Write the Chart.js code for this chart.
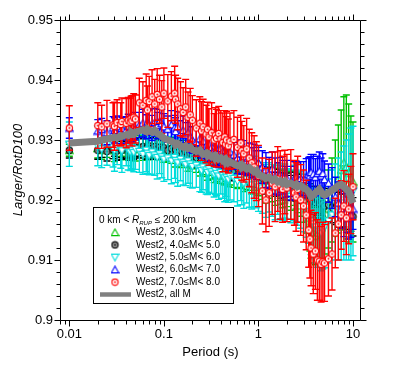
<!DOCTYPE html>
<html><head><meta charset="utf-8">
<script src="https://cdn.jsdelivr.net/npm/chart.js@4.4.0/dist/chart.umd.min.js"></script>
<style>html,body{margin:0;padding:0;background:#fff;}#wrap{width:401px;height:365px;}</style>
</head><body><div id="wrap"><canvas id="c" width="401" height="365"></canvas></div>
<script>
const periods = [0.01,0.02,0.022,0.025,0.029,0.03,0.032,0.035,0.036,0.04,
 0.042,0.044,0.045,0.046,0.048,0.05,0.055,0.06,0.065,0.067,
 0.07,0.075,0.08,0.085,0.09,0.095,0.1,0.11,0.12,0.13,
 0.133,0.14,0.15,0.16,0.17,0.18,0.19,0.2,0.22,0.24,
 0.25,0.26,0.28,0.29,0.3,0.32,0.34,0.35,0.36,0.38,
 0.4,0.42,0.44,0.45,0.46,0.48,0.5,0.55,0.6,0.65,
 0.667,0.7,0.75,0.8,0.85,0.9,0.95,1,1.1,1.2,
 1.3,1.4,1.5,1.6,1.7,1.8,1.9,2,2.2,2.4,
 2.5,2.6,2.8,3,3.2,3.4,3.5,3.6,3.8,4,
 4.2,4.4,4.6,4.8,5,5.5,6,6.5,7,7.5,
 8,8.5,9,9.5,10];

const seriesLabels = ['West2, 3.0\u2264M< 4.0','West2, 4.0\u2264M< 5.0','West2, 5.0\u2264M< 6.0','West2, 6.0\u2264M< 7.0','West2, 7.0\u2264M< 8.0','West2, all M'];

const m34 = [.9283,
 .9286,.9283,.9288,.9285,.9282,.9287,.9284,.9289,.9286,.9283,.9288,.9285,.9290,.9287,.9284,
 .9289,.9286,.9291,.9288,.9285,.9290,.9287,.9284,.9289,.9286,.9282,
 .9284,.9280,.9276,.9281,.9277,.9273,.9278,.9274,.9270,.9275,.9271,
 .9267,.9263,.9268,.9264,.9260,.9256,.9261,.9257,.9253,.9258,.9254,.9250,.9255,.9251,.9247,.9252,.9248,.9244,.9249,
 .9245,.9241,.9246,.9242,.9238,.9243,.9239,.9235,.9240,.9236,.9232,
 .9228,.9224,.9229,.9225,.9221,.9226,.9222,.9218,.9223,.9219,.9215,.9220,.9216,.9212,.9208,
 .9200,.9185,.9170,.9160,.9150,.9145,.9140,.9145,.9150,.9155,.9160,.9170,.9185,.9200,
 .9220,.9235,.9250,.9262,.9255,.9245,.9235,.9230];
const m34Err = [.0010,
 .0016,.0015,.0017,.0016,.0018,.0015,.0017,.0016,.0018,.0017,.0015,.0018,.0016,.0017,.0019,
 .0018,.0020,.0017,.0019,.0018,.0020,.0019,.0017,.0020,.0018,.0019,
 .0020,.0019,.0021,.0020,.0022,.0019,.0021,.0020,.0022,.0021,.0019,
 .0021,.0023,.0020,.0022,.0021,.0023,.0020,.0022,.0024,.0021,.0023,.0022,.0020,.0024,.0022,.0021,.0023,.0022,.0024,
 .0024,.0022,.0025,.0023,.0024,.0026,.0023,.0025,.0024,.0026,.0025,
 .0027,.0029,.0026,.0028,.0030,.0027,.0029,.0031,.0028,.0030,.0032,.0029,.0031,.0033,.0035,
 .0037,.0040,.0042,.0045,.0047,.0050,.0048,.0052,.0050,.0054,.0056,.0060,.0065,.0070,
 .0080,.0090,.0100,.0110,.0120,.0115,.0105,.0100];

const m45 = [.9283,
 .9283,.9285,.9281,.9284,.9286,.9282,.9285,.9283,.9287,.9284,.9282,.9286,.9283,.9285,.9288,
 .9286,.9289,.9285,.9288,.9290,.9286,.9289,.9285,.9288,.9284,.9287,
 .9283,.9286,.9281,.9284,.9279,.9282,.9277,.9280,.9275,.9278,.9273,
 .9271,.9274,.9269,.9272,.9267,.9270,.9265,.9268,.9263,.9266,.9261,.9264,.9259,.9262,.9257,.9260,.9255,.9258,.9253,
 .9250,.9253,.9248,.9251,.9246,.9249,.9244,.9247,.9242,.9245,.9240,
 .9236,.9232,.9235,.9230,.9226,.9229,.9224,.9227,.9222,.9225,.9220,.9223,.9218,.9221,.9216,
 .9212,.9208,.9205,.9202,.9200,.9198,.9196,.9200,.9195,.9198,.9194,.9190,.9192,.9188,
 .9186,.9184,.9182,.9185,.9180,.9176,.9178,.9172];
const m45Err = [.0013,
 .0015,.0014,.0016,.0015,.0013,.0016,.0014,.0015,.0017,.0014,.0016,.0015,.0014,.0017,.0015,
 .0016,.0015,.0017,.0016,.0014,.0018,.0015,.0017,.0016,.0015,.0017,
 .0016,.0018,.0015,.0017,.0016,.0018,.0017,.0015,.0018,.0016,.0017,
 .0017,.0019,.0016,.0018,.0017,.0019,.0016,.0018,.0017,.0019,.0016,.0018,.0017,.0019,.0018,.0016,.0019,.0017,.0018,
 .0018,.0020,.0017,.0019,.0018,.0020,.0019,.0017,.0020,.0018,.0019,
 .0020,.0022,.0019,.0021,.0020,.0022,.0021,.0019,.0022,.0020,.0021,.0023,.0020,.0022,.0021,
 .0023,.0024,.0022,.0025,.0023,.0024,.0026,.0023,.0025,.0024,.0026,.0025,.0027,.0026,
 .0027,.0029,.0028,.0030,.0029,.0031,.0030,.0032];

const m56 = [.9293,
 .9290,.9285,.9292,.9287,.9283,.9290,.9286,.9282,.9289,.9284,.9280,.9287,.9283,.9279,.9285,
 .9281,.9276,.9283,.9278,.9274,.9280,.9275,.9271,.9277,.9272,.9268,
 .9270,.9265,.9271,.9266,.9262,.9268,.9263,.9259,.9265,.9260,.9256,
 .9258,.9253,.9249,.9255,.9250,.9246,.9252,.9247,.9243,.9249,.9244,.9240,.9246,.9241,.9237,.9243,.9238,.9234,.9240,
 .9236,.9231,.9237,.9232,.9228,.9234,.9229,.9225,.9231,.9226,.9222,
 .9220,.9215,.9221,.9216,.9212,.9218,.9213,.9209,.9215,.9210,.9206,.9212,.9207,.9203,.9200,
 .9195,.9188,.9180,.9172,.9165,.9160,.9155,.9150,.9148,.9145,.9150,.9155,.9165,.9175,
 .9180,.9185,.9190,.9195,.9200,.9205,.9210,.9215];
const m56Err = [.0037,
 .0033,.0031,.0034,.0032,.0035,.0031,.0033,.0036,.0032,.0034,.0031,.0035,.0033,.0032,.0034,
 .0035,.0033,.0036,.0034,.0032,.0037,.0034,.0036,.0033,.0035,.0037,
 .0036,.0038,.0035,.0037,.0039,.0036,.0038,.0035,.0037,.0039,.0036,
 .0037,.0039,.0036,.0038,.0040,.0037,.0039,.0036,.0038,.0040,.0037,.0039,.0036,.0038,.0040,.0037,.0039,.0038,.0040,
 .0039,.0041,.0038,.0040,.0042,.0039,.0041,.0040,.0042,.0039,.0041,
 .0042,.0044,.0041,.0043,.0045,.0042,.0044,.0043,.0045,.0042,.0044,.0046,.0043,.0045,.0047,
 .0048,.0050,.0052,.0054,.0056,.0058,.0060,.0062,.0060,.0063,.0065,.0068,.0070,.0075,
 .0080,.0085,.0090,.0095,.0100,.0105,.0110,.0108];

const m67 = [.9320,
 .9315,.9318,.9312,.9320,.9316,.9322,.9314,.9319,.9317,.9323,.9315,.9320,.9318,.9324,.9319,
 .9325,.9328,.9322,.9330,.9326,.9320,.9329,.9324,.9331,.9327,.9322,
 .9318,.9325,.9320,.9314,.9322,.9310,.9316,.9308,.9312,.9305,.9300,
 .9296,.9302,.9292,.9298,.9290,.9286,.9293,.9288,.9282,.9290,.9284,.9279,.9286,.9281,.9276,.9283,.9278,.9274,.9280,
 .9275,.9270,.9277,.9268,.9272,.9265,.9269,.9262,.9266,.9258,.9262,
 .9255,.9250,.9245,.9252,.9240,.9235,.9242,.9238,.9230,.9236,.9228,.9235,.9238,.9232,.9236,
 .9234,.9238,.9242,.9240,.9246,.9243,.9238,.9244,.9248,.9240,.9244,.9234,.9228,.9220,
 .9205,.9195,.9185,.9175,.9180,.9170,.9175,.9185];
const m67Err = [.0017,
 .0019,.0018,.0020,.0019,.0021,.0018,.0020,.0019,.0022,.0020,.0019,.0021,.0020,.0022,.0019,
 .0021,.0023,.0020,.0022,.0024,.0021,.0023,.0022,.0020,.0024,.0022,
 .0022,.0024,.0021,.0023,.0025,.0022,.0024,.0021,.0023,.0025,.0022,
 .0023,.0025,.0022,.0024,.0021,.0023,.0025,.0022,.0024,.0023,.0021,.0025,.0022,.0024,.0023,.0025,.0022,.0024,.0023,
 .0024,.0026,.0023,.0025,.0027,.0024,.0026,.0025,.0027,.0024,.0026,
 .0027,.0029,.0026,.0028,.0030,.0027,.0029,.0028,.0026,.0030,.0028,.0029,.0027,.0030,.0028,
 .0030,.0031,.0029,.0032,.0030,.0033,.0031,.0029,.0032,.0030,.0033,.0031,.0032,.0034,
 .0033,.0035,.0032,.0036,.0034,.0035,.0037,.0034];

const m78 = [.9320,
 .9324,.9322,.9327,.9325,.9323,.9329,.9326,.9331,.9328,.9333,.9330,.9336,.9332,.9338,.9335,
 .9362,.9358,.9366,.9350,.9364,.9372,.9360,.9376,.9368,.9355,.9378,
 .9365,.9373,.9378,.9368,.9360,.9352,.9346,.9355,.9338,.9342,.9333,
 .9320,.9328,.9315,.9322,.9310,.9318,.9305,.9312,.9300,.9308,.9303,.9311,.9302,.9296,.9305,.9293,.9300,.9290,.9298,
 .9301,.9288,.9295,.9282,.9277,.9285,.9270,.9262,.9255,.9248,.9240,
 .9215,.9200,.9212,.9228,.9222,.9235,.9225,.9218,.9230,.9220,.9226,.9212,.9205,.9218,.9200,
 .9190,.9175,.9150,.9135,.9120,.9110,.9115,.9100,.9098,.9093,.9097,.9095,.9102,.9110,
 .9145,.9160,.9175,.9190,.9170,.9185,.9200,.9222];
const m78Err = [.0037,
 .0038,.0036,.0039,.0037,.0040,.0038,.0036,.0039,.0041,.0038,.0040,.0037,.0042,.0039,.0040,
 .0041,.0039,.0044,.0040,.0042,.0045,.0041,.0043,.0040,.0044,.0042,
 .0044,.0041,.0045,.0040,.0043,.0045,.0041,.0046,.0042,.0044,.0041,
 .0047,.0044,.0049,.0046,.0048,.0045,.0047,.0050,.0044,.0046,.0048,.0045,.0047,.0049,.0044,.0046,.0048,.0045,.0047,
 .0048,.0050,.0046,.0049,.0047,.0051,.0048,.0050,.0052,.0049,.0051,
 .0055,.0053,.0056,.0052,.0058,.0054,.0057,.0055,.0053,.0056,.0058,.0054,.0057,.0055,.0059,
 .0060,.0058,.0062,.0065,.0063,.0066,.0064,.0067,.0065,.0063,.0066,.0064,.0062,.0060,
 .0058,.0060,.0057,.0059,.0061,.0058,.0056,.0055];

const allM = [.9295,
 .9298,.9300,.9302,.9304,.9305,.9303,.9307,.9306,.9309,.9308,.9311,.9309,.9312,.9310,.9313,
 .9315,.9317,.9314,.9318,.9316,.9313,.9316,.9311,.9309,.9306,.9303,
 .9300,.9298,.9295,.9292,.9294,.9290,.9288,.9290,.9286,.9288,.9284,
 .9281,.9283,.9279,.9276,.9278,.9274,.9276,.9272,.9274,.9270,.9272,.9268,.9270,.9266,.9268,.9264,.9266,.9262,.9264,
 .9260,.9257,.9259,.9254,.9256,.9252,.9254,.9250,.9247,.9249,.9242,
 .9240,.9236,.9238,.9233,.9235,.9230,.9232,.9228,.9231,.9226,.9228,.9224,.9226,.9222,.9224,
 .9220,.9218,.9214,.9210,.9206,.9208,.9212,.9215,.9218,.9214,.9210,.9208,.9212,.9216,
 .9220,.9224,.9226,.9222,.9218,.9214,.9205,.9195];

const xTicks = [0.008,0.009,0.01,0.02,0.03,0.04,0.05,0.06,0.07,0.08,0.09,0.1,0.2,0.3,0.4,0.5,0.6,0.7,0.8,0.9,1,2,3,4,5,6,7,8,9,10];
const yTicks = [0.9,0.902,0.904,0.906,0.908,0.91,0.912,0.914,0.916,0.918,0.92,0.922,0.924,0.926,0.928,0.93,0.932,0.934,0.936,0.938,0.94,0.942,0.944,0.946,0.948,0.95];

const FONT = '"Liberation Sans", Arial, Helvetica, sans-serif';
Chart.defaults.font.family = FONT;
Chart.defaults.color = '#000';

const GREEN = '#00c000', BLACK = '#000000', CYAN = '#00dcdc', BLUE = '#0000ff', RED = '#ff0000', GRAY = '#808080';

function marker(shape, stroke, fill, dot) {
  const c = document.createElement('canvas');
  c.width = 9; c.height = 9;
  const g = c.getContext('2d');
  g.lineWidth = 1.1; g.strokeStyle = stroke; g.fillStyle = fill;
  g.beginPath();
  if (shape === 'up') { g.moveTo(4.5, 1.0); g.lineTo(8.2, 7.6); g.lineTo(0.8, 7.6); g.closePath(); }
  else if (shape === 'down') { g.moveTo(4.5, 8.0); g.lineTo(8.2, 1.4); g.lineTo(0.8, 1.4); g.closePath(); }
  else { g.arc(4.5, 4.5, 3.1, 0, Math.PI * 2); }
  g.fill(); g.stroke();
  if (dot) { g.beginPath(); g.fillStyle = dot; g.arc(4.5, 4.5, 1.0, 0, Math.PI * 2); g.fill(); }
  return c;
}

const pts = vals => periods.map((p, i) => ({x: p, y: vals[i]}));
const isDecade = v => Math.abs(Math.log10(v) - Math.round(Math.log10(v))) < 1e-9;
const isMajorY = v => Math.abs(v * 100 - Math.round(v * 100)) < 1e-6;

const errorBarPlugin = {
  id: 'errbars',
  beforeDatasetDraw(chart, args) {
    const ds = chart.data.datasets[args.index];
    if (!ds.errors) return;
    const xs = chart.scales.x, ys = chart.scales.y, ctx = chart.ctx;
    ctx.save();
    ctx.strokeStyle = ds.errColor;
    ctx.lineWidth = 1.4;
    ctx.beginPath();
    ds.data.forEach((d, i) => {
      const e = ds.errors[i];
      const px = xs.getPixelForValue(d.x);
      const y1 = ys.getPixelForValue(d.y + e), y2 = ys.getPixelForValue(d.y - e);
      ctx.moveTo(px, y1); ctx.lineTo(px, y2);
      ctx.moveTo(px - 3.5, y1); ctx.lineTo(px + 3.5, y1);
      ctx.moveTo(px - 3.5, y2); ctx.lineTo(px + 3.5, y2);
    });
    ctx.stroke();
    ctx.restore();
  }
};

const framePlugin = {
  id: 'frame',
  afterDraw(chart) {
    const {ctx, chartArea: a, scales: {x, y}} = chart;
    ctx.save();
    ctx.strokeStyle = '#000'; ctx.lineWidth = 1;
    ctx.beginPath();
    const L = Math.round(a.left) + 0.5, R = Math.round(a.right) - 0.5, T = Math.round(a.top) + 0.5, B = Math.round(a.bottom) + 0.5;
    ctx.moveTo(L, T); ctx.lineTo(R, T); ctx.lineTo(R, B); ctx.lineTo(L, B); ctx.closePath();
    x.ticks.forEach(t => {
      const px = Math.round(x.getPixelForValue(t.value)) + 0.5;
      const len = isDecade(t.value) ? 6 : 4;
      ctx.moveTo(px, B); ctx.lineTo(px, B + len);
      ctx.moveTo(px, T); ctx.lineTo(px, T - len);
    });
    y.ticks.forEach(t => {
      const py = Math.round(y.getPixelForValue(t.value)) + 0.5;
      const len = isMajorY(t.value) ? 6 : 4;
      ctx.moveTo(L, py); ctx.lineTo(L - len, py);
      ctx.moveTo(R, py); ctx.lineTo(R + len, py);
    });
    ctx.stroke();
    ctx.restore();
  }
};

const legendPlugin = {
  id: 'boxLegend',
  afterDraw(chart) {
    const ctx = chart.ctx;
    const L = 93, T = 207, W = 140, H = 96;
    ctx.save();
    ctx.fillStyle = '#fff'; ctx.fillRect(L, T, W, H);
    ctx.strokeStyle = '#000'; ctx.lineWidth = 1; ctx.strokeRect(L + 0.5, T + 0.5, W, H);
    ctx.fillStyle = '#000'; ctx.textBaseline = 'middle'; ctx.textAlign = 'left';
    let x = L + 6; const y = T + 13;
    const f = '10px ' + FONT, fi = 'italic 10px ' + FONT, fs = 'italic 6px ' + FONT;
    ctx.font = f; ctx.fillText('0 km < ', x, y); x += ctx.measureText('0 km < ').width;
    ctx.font = fi; ctx.fillText('R', x, y); x += ctx.measureText('R').width;
    ctx.font = fs; ctx.fillText('RUP', x, y + 3); x += ctx.measureText('RUP').width;
    ctx.font = f; ctx.fillText(' \u2264 200 km', x, y);
    const rows = chart.data.datasets.slice().reverse();
    rows.forEach((ds, i) => {
      const ry = T + 25.5 + i * 12.4;
      if (ds.pointStyle && typeof ds.pointStyle === 'object') {
        const img = ds.pointStyle;
        ctx.drawImage(img, L + 22 - img.width / 2, ry - img.height / 2);
      } else {
        ctx.save(); ctx.strokeStyle = ds.borderColor; ctx.lineWidth = 4.5;
        ctx.beginPath(); ctx.moveTo(L + 7, ry); ctx.lineTo(L + 38, ry); ctx.stroke(); ctx.restore();
      }
      ctx.fillStyle = '#000'; ctx.font = f;
      ctx.fillText(ds.label, L + 43, ry);
    });
    ctx.restore();
  }
};

const mk = (label, vals, errs, color, style, order) => ({
  label, data: pts(vals), errors: errs, errColor: color,
  pointStyle: style, pointRadius: 4, order, showLine: false
});

new Chart(document.getElementById('c'), {
  type: 'scatter',
  data: {
    datasets: [
      {label: seriesLabels[5], data: pts(allM), showLine: true, borderColor: GRAY, borderWidth: 7, pointRadius: 0, order: 0, tension: 0},
      mk(seriesLabels[4], m78, m78Err, RED, marker('circle', RED, '#fff', RED), 1),
      mk(seriesLabels[3], m67, m67Err, BLUE, marker('up', BLUE, '#fff'), 2),
      mk(seriesLabels[2], m56, m56Err, CYAN, marker('down', CYAN, '#fff'), 3),
      mk(seriesLabels[1], m45, m45Err, BLACK, marker('circle', BLACK, '#999', BLACK), 4),
      mk(seriesLabels[0], m34, m34Err, GREEN, marker('up', GREEN, '#fff'), 5)
    ]
  },
  options: {
    responsive: false, animation: false, events: [],
    layout: {padding: {top: 20, right: 40, left: 0, bottom: 0}},
    plugins: {legend: {display: false}, tooltip: {enabled: false}},
    scales: {
      x: {
        type: 'logarithmic', position: 'bottom', min: 0.00797, max: 12.15,
        afterBuildTicks: s => { s.ticks = xTicks.map(v => ({value: v})); },
        afterFit: s => { s.height = 45; },
        grid: {display: false, drawTicks: false}, border: {display: false},
        ticks: {autoSkip: false, maxRotation: 0, minRotation: 0, padding: 7, font: {size: 13},
                callback: v => isDecade(v) ? String(v) : ''},
        title: {display: true, text: 'Period (s)', font: {size: 13}, padding: {top: 0, bottom: 5}}
      },
      y: {
        type: 'linear', position: 'left', min: 0.9, max: 0.95,
        afterBuildTicks: s => { s.ticks = yTicks.map(v => ({value: v})); },
        afterFit: s => { s.width = 60; },
        grid: {display: false, drawTicks: false}, border: {display: false},
        ticks: {autoSkip: false, padding: 7, font: {size: 13},
                callback: v => isMajorY(v) ? String(Math.round(v * 100) / 100) : ''},
        title: {display: true, text: 'Larger/RotD100', font: {size: 13, style: 'italic'}, padding: {top: 11, bottom: 0}}
      }
    }
  },
  plugins: [errorBarPlugin, framePlugin, legendPlugin]
});
</script>
</body></html>
